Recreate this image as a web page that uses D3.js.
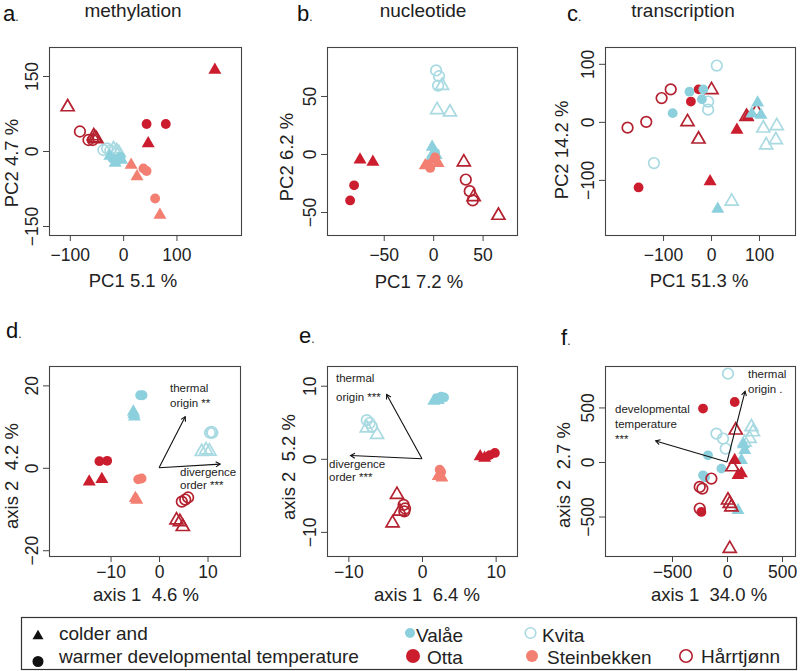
<!DOCTYPE html>
<html><head><meta charset="utf-8">
<script src="https://cdn.jsdelivr.net/npm/d3@7"></script>
<style>body{margin:0;background:#fff} svg{display:block}</style>
</head><body>
<svg id="chart" width="800" height="671"></svg>
<script>
// ---------- data ----------
const sites = ["Valåe", "Kvita", "Otta", "Steinbekken", "Hårrtjønn"];
const temps = ["colder", "warmer"]; // colder = triangle, warmer = circle

// [site, temperature ("c" colder / "w" warmer), x, y]
const methylationPCA = [
  ["Kvita","w",-37,2],["Kvita","w",-30,5],["Kvita","w",-24,1],
  ["Kvita","c",-18,4],["Kvita","c",-12,0],["Kvita","c",-8,-4],
  ["Valåe","w",-20,-15],["Valåe","w",-12,-20],["Valåe","w",-5,-12],
  ["Valåe","c",-25,-10],["Valåe","c",-15,-24],["Valåe","c",-3,-18],
  ["Steinbekken","c",15,-28],["Steinbekken","c",26,-51],["Steinbekken","c",69,-128],
  ["Steinbekken","w",38,-35],["Steinbekken","w",44,-40],["Steinbekken","w",60,-95],
  ["Hårrtjønn","c",-104,88],["Hårrtjønn","c",-55,30],["Hårrtjønn","c",-50,24],["Hårrtjønn","c",-53,26],
  ["Hårrtjønn","w",-81,39],["Hårrtjønn","w",-65,22],["Hårrtjønn","w",-57,22],
  ["Otta","w",44,54],["Otta","w",80,54],
  ["Otta","c",47,15],["Otta","c",172,162]
];
const nucleotidePCA = [
  ["Kvita","w",3,72],["Kvita","w",6,67],["Kvita","w",5,59],
  ["Kvita","c",9,59],["Kvita","c",4,38],["Kvita","c",17,36],
  ["Valåe","c",-1,6],["Valåe","c",1,2],["Valåe","c",3,-1],
  ["Valåe","w",0,-3],["Valåe","w",2,1],["Valåe","w",-2,-4],
  ["Steinbekken","c",-8,-10],["Steinbekken","c",0,-5],["Steinbekken","c",5,-8],
  ["Steinbekken","w",-3,-12],["Steinbekken","w",2,-3],["Steinbekken","w",-5,-9],
  ["Otta","c",-74,-5],["Otta","c",-61,-7],
  ["Otta","w",-80,-27],["Otta","w",-84,-40],
  ["Hårrtjønn","c",31,-7],["Hårrtjønn","c",41,-37],["Hårrtjønn","c",66,-53],
  ["Hårrtjønn","w",33,-22],["Hårrtjønn","w",37,-32],["Hårrtjønn","w",40,-40]
];
const transcriptionPCA = [
  ["Kvita","w",12,97],["Kvita","w",-119,-71],["Kvita","w",-6,35],["Kvita","w",-6,21],
  ["Kvita","c",137,-7],["Kvita","c",109,-11],["Kvita","c",135,-31],["Kvita","c",115,-40],["Kvita","c",43,-137],
  ["Hårrtjønn","w",-174,-10],["Hårrtjønn","w",-135,0],["Hårrtjønn","w",-103,41],["Hårrtjønn","w",-84,56],
  ["Hårrtjønn","c",1,55],["Hårrtjønn","c",-49,0],["Hårrtjønn","c",-26,-30],["Hårrtjønn","c",95,18],["Hårrtjønn","c",74,9],
  ["Otta","w",-42,35],["Otta","w",-26,56],["Otta","w",-151,-113],
  ["Otta","c",-2,-103],["Otta","c",54,-14],["Otta","c",76,9],
  ["Valåe","w",-45,52],["Valåe","w",-80,15],["Valåe","w",-16,56],["Valåe","w",-19,39],
  ["Valåe","c",97,33],["Valåe","c",104,12],["Valåe","c",85,14],["Valåe","c",14,-150]
];
const methylationRDA = [
  ["Valåe","w",-3.9,17.6],["Valåe","w",-3.4,17.6],
  ["Valåe","c",-5.3,13.6],["Valåe","c",-5.1,12.4],["Valåe","c",-5.2,13.0],
  ["Kvita","w",10.5,8.5],["Kvita","w",11.0,8.5],["Kvita","w",10.8,8.7],
  ["Kvita","c",8.8,3.9],["Kvita","c",9.7,4.3],["Kvita","c",10.4,4.0],
  ["Otta","w",-12.3,1.6],["Otta","w",-10.7,1.7],
  ["Otta","c",-14.4,-3.4],["Otta","c",-11.8,-2.8],
  ["Steinbekken","w",-4.3,-2.8],["Steinbekken","w",-3.6,-2.6],
  ["Steinbekken","c",-4.9,-7.4],["Steinbekken","c",-4.6,-7.8],
  ["Hårrtjønn","w",4.7,-8.2],["Hårrtjønn","w",5.4,-7.7],["Hårrtjønn","w",6.0,-7.2],
  ["Hårrtjønn","c",3.6,-12.7],["Hårrtjønn","c",4.3,-13.1],["Hårrtjønn","c",4.9,-14.3]
];
const nucleotideRDA = [
  ["Valåe","w",2.0,8.3],["Valåe","w",2.6,8.5],["Valåe","w",3.0,8.4],
  ["Valåe","c",1.6,7.9],["Valåe","c",2.2,8.0],
  ["Kvita","w",-7.5,5.3],["Kvita","w",-7.1,4.9],["Kvita","w",-6.8,4.4],
  ["Kvita","c",-7.5,4.2],["Kvita","c",-6.1,3.3],
  ["Otta","w",9.9,0.8],["Otta","w",9.2,0.5],
  ["Otta","c",7.9,0.3],["Otta","c",8.5,0.1],
  ["Steinbekken","w",2.4,-1.5],["Steinbekken","w",2.6,-1.8],
  ["Steinbekken","c",2.2,-2.4],["Steinbekken","c",2.7,-2.6],
  ["Hårrtjønn","w",-2.5,-6.3],["Hårrtjønn","w",-2.3,-6.8],["Hårrtjønn","w",-2.4,-7.2],
  ["Hårrtjønn","c",-3.4,-4.9],["Hårrtjønn","c",-3.0,-7.2],["Hårrtjønn","c",-4.0,-8.8]
];
const transcriptionRDA = [
  ["Kvita","w",9,810],["Kvita","w",-96,260],["Kvita","w",-36,215],["Kvita","w",-12,123],
  ["Kvita","c",222,321],["Kvita","c",236,275],["Kvita","c",206,214],["Kvita","c",160,180],
  ["Valåe","w",-173,61],["Valåe","w",-51,-61],["Valåe","w",-218,-122],["Valåe","w",-200,-140],
  ["Valåe","c",161,107],["Valåe","c",131,16],["Valåe","c",100,-443],["Valåe","c",150,160],
  ["Otta","w",-218,490],["Otta","w",70,550],["Otta","w",-233,-458],
  ["Otta","c",100,-122],["Otta","c",70,16],["Otta","c",131,-106],
  ["Hårrtjønn","w",-142,-152],["Hårrtjønn","w",-248,-229],["Hårrtjønn","w",-224,-244],["Hårrtjønn","w",-248,-427],
  ["Hårrtjønn","c",79,291],["Hårrtjønn","c",49,-46],["Hårrtjønn","c",9,-351],["Hårrtjønn","c",25,-381],["Hårrtjønn","c",40,-413],["Hårrtjønn","c",25,-794]
];

// fitted vectors [label lines, x, y]
const methylationVectors = [[["thermal","origin **"],5.4,12.4],[["divergence","order ***"],12.6,0.9]];
const nucleotideVectors = [[["thermal","origin ***"],-4.8,8.8],[["divergence","order ***"],-9.7,0.45]];
const transcriptionVectors = [[["thermal","origin ."],164,648],[["developmental","temperature","***"],-648,193]];

// tick labels
const ticksA = {x:[-100,0,100], y:[-150,0,150]};
const ticksB = {x:[-50,0,50], y:[-50,0,50]};
const ticksC = {x:[-100,0,100], y:[-100,0,100]};
const ticksD = {x:[-10,0,10], y:[-20,0,20]};
const ticksE = {x:[-10,0,10], y:[-10,0,10]};
const ticksF = {x:[-500,0,500], y:[-500,0,500]};

const columnTitles = ["methylation", "nucleotide", "transcription"];
const axisTitles = [
  ["PC1 5.1 %","PC2 4.7 %"],["PC1 7.2 %","PC2 6.2 %"],["PC1 51.3 %","PC2 14.2 %"],
  ["axis 1  4.6 %","axis 2  4.2 %"],["axis 1  6.4 %","axis 2  5.2 %"],["axis 1  34.0 %","axis 2  2.7 %"]
];

// ---------- styles / layout ----------
const colors = {"Valåe":"#8dd0dd","Kvita":"#a9dae2","Otta":"#cc1d2e","Steinbekken":"#f27f72","Hårrtjønn":"#b4212f"};
const filled = {"Valåe":true,"Kvita":false,"Otta":true,"Steinbekken":true,"Hårrtjønn":false};
const FONT = "'Liberation Sans', Arial, sans-serif";
const svg = d3.select("#chart");

const panels = [
  {letter:"a", lx:3, ly:21, data:methylationPCA, ticks:ticksA, at:axisTitles[0], box:[49,47,241,235], xd:[-139,221], yd:[-168,208],
   tickOff:26, xtY:287, xtX:133, ytX:18, ytY:163},
  {letter:"b", lx:297, ly:21, data:nucleotidePCA, ticks:ticksB, at:axisTitles[1], box:[327,47,517,235], xd:[-107.4,84.8], yd:[-69.8,92.2],
   tickOff:26, xtY:288, xtX:419, ytX:293, ytY:157},
  {letter:"c", lx:567, ly:21, data:transcriptionPCA, ticks:ticksC, at:axisTitles[2], box:[605,47,795,235], xd:[-221,175], yd:[-195,129],
   tickOff:26, xtY:287, xtX:699, ytX:568, ytY:150},
  {letter:"d", lx:6, ly:338, data:methylationRDA, ticks:ticksD, at:axisTitles[3], box:[49,366,240,556], xd:[-22.7,16.7], yd:[-21.4,24.7],
   tickOff:22, xtY:601, xtX:146, ytX:18, ytY:476, vectors:methylationVectors,
   labels:[[[170,392],[170,407]],[[180,476],[180,489]]]},
  {letter:"e", lx:299, ly:343, data:nucleotideRDA, ticks:ticksE, at:axisTitles[4], box:[327,366,517,556], xd:[-12.9,12.9], yd:[-13.3,12.7],
   tickOff:22, xtY:601, xtX:427, ytX:295, ytY:467, vectors:nucleotideVectors,
   labels:[[[336,382],[336,401]],[[329,468],[329,481]]]},
  {letter:"f", lx:561, ly:345, data:transcriptionRDA, ticks:ticksF, at:axisTitles[5], box:[605,366,795,556], xd:[-1109,618], yd:[-862,880],
   tickOff:22, xtY:601, xtX:709, ytX:570, ytY:475, vectors:transcriptionVectors,
   labels:[[[748,378],[748,393]],[[615,413],[615,428],[615,443]]]}
];
const titleX = [133, 423, 683];

function triPath(s){ const h = s*Math.sqrt(3)/2; return `M0,${-2*h/3}L${s/2},${h/3}L${-s/2},${h/3}Z`; }
const fmt = d => d < 0 ? "\u2212" + Math.abs(d) : String(d);

// column titles
columnTitles.forEach((t,i) => {
  svg.append("text").attr("x", titleX[i]).attr("y", 17).attr("text-anchor","middle")
    .attr("font-family", FONT).attr("font-size", 19).attr("fill","#222").text(t);
});

panels.forEach(p => {
  const [x0,y0,x1,y1] = p.box;
  const x = d3.scaleLinear().domain(p.xd).range([x0,x1]);
  const y = d3.scaleLinear().domain(p.yd).range([y1,y0]);
  const g = svg.append("g");

  // panel letter
  svg.append("text").attr("x", p.lx).attr("y", p.ly).attr("font-family", FONT)
    .attr("font-size", 22).attr("fill","#111").text(p.letter)
    .append("tspan").attr("font-size", 12).text(".");

  // x axis
  const xa = g.append("g").attr("transform", `translate(0,${y1})`)
    .call(d3.axisBottom(x).tickValues(p.ticks.x).tickFormat(fmt).tickSize(6).tickPadding(p.tickOff - 6 - 12.6));
  xa.select(".domain").remove();
  xa.selectAll("line").attr("stroke","#444");
  xa.selectAll("text").attr("font-family", FONT).attr("font-size", 17.5).attr("fill","#222");

  // y axis with rotated labels
  const ya = g.append("g").attr("transform", `translate(${x0},0)`)
    .call(d3.axisLeft(y).tickValues(p.ticks.y).tickFormat(fmt).tickSize(6));
  ya.select(".domain").remove();
  ya.selectAll("line").attr("stroke","#444");
  ya.selectAll("text").attr("x", null).attr("dy", null).attr("text-anchor","middle")
    .attr("transform","translate(-11,0) rotate(-90)")
    .attr("font-family", FONT).attr("font-size", 17.5).attr("fill","#222");

  // box
  g.append("rect").attr("x", x0+0.5).attr("y", y0+0.5).attr("width", x1-x0).attr("height", y1-y0)
    .attr("fill","none").attr("stroke","#444").attr("stroke-width",1.1);

  // axis titles
  g.append("text").attr("x", p.xtX).attr("y", p.xtY).attr("text-anchor","middle")
    .attr("font-family", FONT).attr("font-size", 18.5).attr("fill","#222").text(p.at[0]);
  g.append("text").attr("transform", `translate(${p.ytX},${p.ytY}) rotate(-90)`).attr("text-anchor","middle")
    .attr("font-family", FONT).attr("font-size", 18.5).attr("fill","#222").text(p.at[1]);
  g.selectAll("text").style("white-space","pre");

  // points
  const pts = g.append("g");
  p.data.forEach(d => {
    const [site, t, vx, vy] = d;
    const col = colors[site], f = filled[site];
    let m;
    if (t === "c") m = pts.append("path").attr("d", triPath(13));
    else m = pts.append("circle").attr("r", f ? 4.9 : 5.3);
    m.attr("transform", `translate(${x(vx)},${y(vy)})`)
     .attr("fill", f ? col : "none").attr("stroke", f ? "none" : col).attr("stroke-width", 1.7);
  });

  // vectors
  if (p.vectors) {
    const ox = x(0), oy = y(0);
    p.vectors.forEach((v, i) => {
      const tx = x(v[1]), ty = y(v[2]);
      g.append("line").attr("x1", ox).attr("y1", oy).attr("x2", tx).attr("y2", ty)
        .attr("stroke","#111").attr("stroke-width",1.1);
      const ang = Math.atan2(ty-oy, tx-ox), L = 5, A = Math.PI/6;
      const pA = [tx - L*Math.cos(ang - A), ty - L*Math.sin(ang - A)];
      const pB = [tx - L*Math.cos(ang + A), ty - L*Math.sin(ang + A)];
      g.append("path").attr("d", `M${pA[0]},${pA[1]}L${tx},${ty}L${pB[0]},${pB[1]}`)
        .attr("fill","none").attr("stroke","#111").attr("stroke-width",1.1);
      v[0].forEach((line, k) => {
        const [lx, ly] = p.labels[i][k];
        g.append("text").attr("x", lx).attr("y", ly).attr("font-family", FONT)
          .attr("font-size", 11.5).attr("fill","#222").text(line);
      });
    });
  }
});

// ---------- legend ----------
const lg = svg.append("g");
lg.append("rect").attr("x", 21.5).attr("y", 617.5).attr("width", 775).attr("height", 52)
  .attr("fill","none").attr("stroke","#333").attr("stroke-width",1.2);
lg.append("path").attr("d", triPath(11)).attr("transform","translate(38,636)").attr("fill","#111");
lg.append("circle").attr("cx",38).attr("cy",661.5).attr("r",5.5).attr("fill","#111");
lg.append("text").attr("x",59).attr("y",640).attr("font-family",FONT).attr("font-size",19).attr("fill","#222").text("colder and");
lg.append("text").attr("x",59).attr("y",662.5).attr("font-family",FONT).attr("font-size",19).attr("fill","#222").text("warmer developmental temperature");

const legendSites = [
  ["Valåe", 410, 633, 5, 416, 642],
  ["Kvita", 530.5, 633, 5.3, 542, 642],
  ["Otta", 413, 656, 7, 427, 664],
  ["Steinbekken", 532, 656, 6, 547, 663.5],
  ["Hårrtjønn", 686, 656, 6.2, 701, 663]
];
legendSites.forEach(([s, cx, cy, r, tx, ty]) => {
  lg.append("circle").attr("cx",cx).attr("cy",cy).attr("r",r)
    .attr("fill", filled[s] ? colors[s] : "none").attr("stroke", filled[s] ? "none" : colors[s]).attr("stroke-width",1.6);
  lg.append("text").attr("x",tx).attr("y",ty).attr("font-family",FONT).attr("font-size",19).attr("fill","#222").text(s);
});
</script>
</body></html>
